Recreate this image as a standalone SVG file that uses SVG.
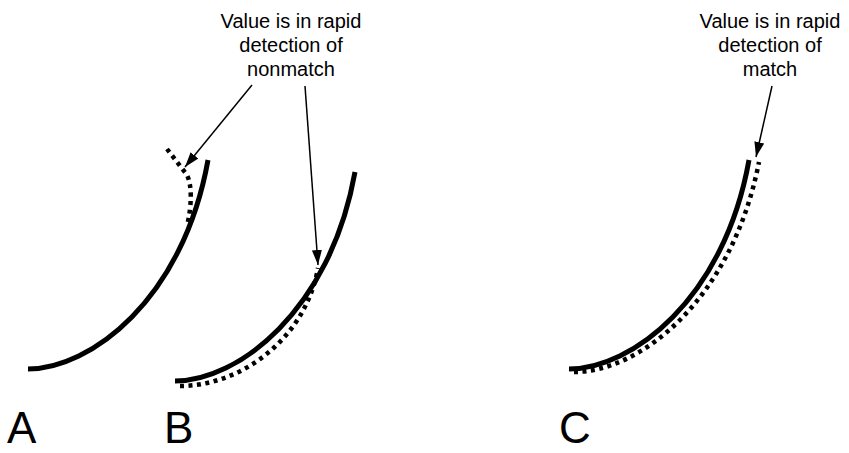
<svg xmlns="http://www.w3.org/2000/svg" width="849" height="453" viewBox="0 0 849 453">
<style>
.solid{fill:none;stroke:#000;stroke-width:5}
.dot{fill:none;stroke:#000;stroke-width:4.5;stroke-dasharray:4 4.5}
.arr{fill:none;stroke:#000;stroke-width:1.5;marker-end:url(#ah)}
.lbl{font-family:"Liberation Sans",Arial,sans-serif;font-size:20px;text-anchor:middle;fill:#000}
.big{font-family:"Liberation Sans",Arial,sans-serif;font-size:44px;fill:#000}
</style>
<defs>
<marker id="ah" markerUnits="userSpaceOnUse" markerWidth="16" markerHeight="12" refX="15" refY="5" orient="auto">
<path d="M0,0 L15,5 L0,10 z" fill="#000"/>
</marker>
</defs>
<g id="curveA">
<path class="solid" d="M28,369 C90,369 183,300 208,160"/>
<path class="dot" d="M167,149 L187,175 C192,185 192,205 187,226"/>
<text class="big" x="7" y="443">A</text>
</g>
<g id="curveB">
<path class="solid" d="M175,381 C237,381 330,312 355,172"/>
<path class="dot" d="M180,386 C240,386 305,340 318,268"/>
<text class="big" x="164" y="443">B</text>
</g>
<g id="curveC">
<path class="solid" d="M569,369 C631,369 724,300 749,160"/>
<path class="dot" d="M574,372 C640,372 732,300 759,162"/>
<text class="big" x="559" y="443">C</text>
</g>
<g id="labelB">
<text class="lbl" x="291" y="28">Value is in rapid</text>
<text class="lbl" x="291" y="52">detection of</text>
<text class="lbl" x="291" y="76">nonmatch</text>
</g>
<g id="labelC">
<text class="lbl" x="770" y="28">Value is in rapid</text>
<text class="lbl" x="770" y="52">detection of</text>
<text class="lbl" x="770" y="76">match</text>
</g>
<g id="connectors">
<path class="arr" d="M252,85 L185,167"/>
<path class="arr" d="M305,86 L318,265"/>
<path class="arr" d="M772,86 L756,157"/>
</g>
</svg>
